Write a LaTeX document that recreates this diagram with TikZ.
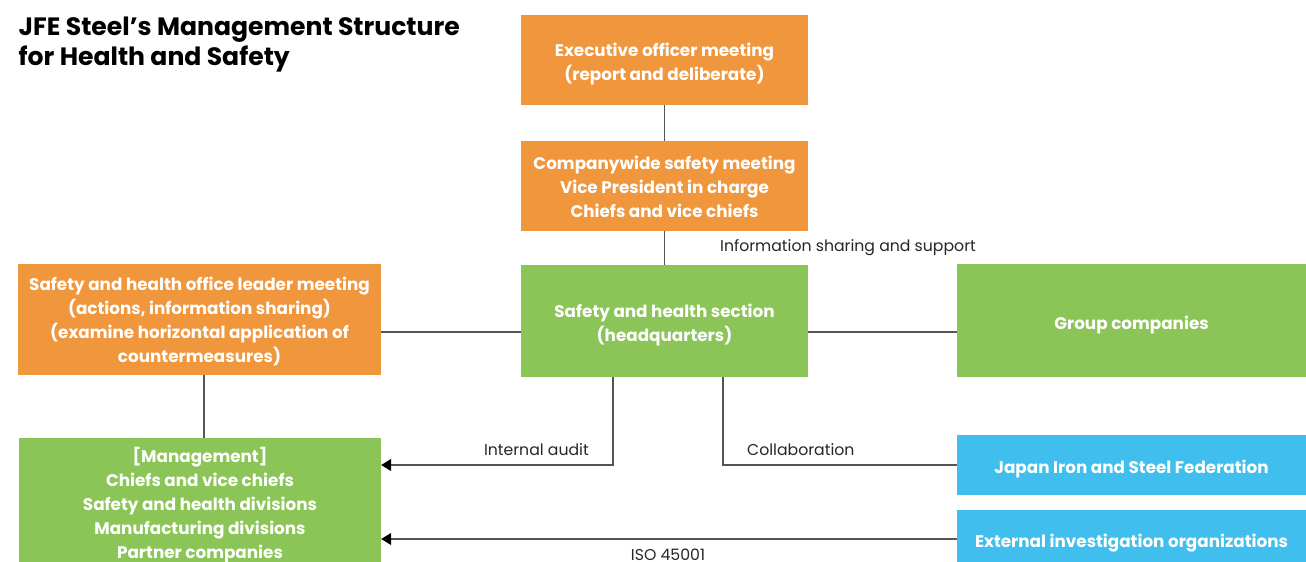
\documentclass[tikz,border=0pt]{standalone}
\usepackage{fontspec}
\setmainfont{Poppins}
\usetikzlibrary{arrows.meta,calc}
\definecolor{orng}{RGB}{240,150,60}
\definecolor{grn}{RGB}{139,197,87}
\definecolor{blu}{RGB}{64,190,238}
\definecolor{ln}{RGB}{85,85,85}
\tikzset{
  box/.style={inner sep=0pt},
  boxtxt/.style={inner sep=0pt, align=center, text=white, font=\fontsize{16.8}{24}\selectfont\bfseries},
  obox/.style={box, fill=orng},
  gbox/.style={box, fill=grn},
  bbox/.style={box, fill=blu},
  conn/.style={draw=ln, line width=1.3pt},
  arr/.style={conn, -{Triangle[length=10pt,width=12pt,fill=black,color=black]}},
  lbl/.style={inner sep=0pt, font=\fontsize{15.7}{20}\selectfont, text=black!85}
}
\begin{document}
\begin{tikzpicture}[x=1pt,y=-1pt]
\useasboundingbox (0,0) rectangle (1306,562);
\clip (0,0) rectangle (1306,562);
\node[anchor=north west, inner sep=0pt, align=left, font=\fontsize{25.1}{30}\selectfont\bfseries] (title) at (18.5,17) {JFE Steel’s Management Structure\\for Health and Safety};
\node[obox, minimum width=287pt, minimum height=90pt,
  label={[boxtxt,yshift=-4pt]center:{Executive officer meeting\\(report and deliberate)}}] (exec) at (664.5,60) {};
\node[obox, minimum width=287pt, minimum height=90pt,
  label={[boxtxt,yshift=-1pt]center:{Companywide safety meeting\\Vice President in charge\\Chiefs and vice chiefs}}] (comp) at (664.5,186) {};
\node[gbox, minimum width=287pt, minimum height=112pt,
  label={[boxtxt,yshift=-4pt]center:{Safety and health section\\(headquarters)}}] (sec) at (664.5,321) {};
\node[obox, minimum width=363pt, minimum height=111pt,
  label={[boxtxt,yshift=-2pt]center:{Safety and health office leader meeting\\(actions, information sharing)\\(examine horizontal application of\\countermeasures)}}] (lead) at (199.5,319.5) {};
\node[gbox, minimum width=349pt, minimum height=113pt,
  label={[boxtxt,yshift=-5pt]center:{Group companies}}] (grp) at (1131.5,320.5) {};
\node[gbox, minimum width=362pt, minimum height=132pt,
  label={[boxtxt,yshift=-1pt]center:{[Management]\\Chiefs and vice chiefs\\Safety and health divisions\\Manufacturing divisions\\Partner companies}}] (mgmt) at (200,504) {};
\node[bbox, minimum width=349pt, minimum height=60pt,
  label={[boxtxt,yshift=-4pt]center:{Japan Iron and Steel Federation}}] (jisf) at (1131.5,465) {};
\node[bbox, minimum width=349pt, minimum height=62pt,
  label={[boxtxt,yshift=-2pt]center:{External investigation organizations}}] (ext) at (1131.5,541) {};
\draw[conn] (exec.south) -- (comp.north);
\draw[conn] (comp.south) -- (sec.north);
\draw[conn] (lead.east |- 0,332) -- (sec.west |- 0,332);
\draw[conn] (sec.east |- 0,332) -- (grp.west |- 0,332);
\draw[conn] (lead.south -| 204,0) -- (mgmt.north -| 204,0);
\draw[arr] (sec.south -| 613,0) |- (mgmt.east |- 0,465);
\draw[conn] (jisf.west) -| (sec.south -| 723,0);
\draw[arr] (ext.west |- 0,539) -- (mgmt.east |- 0,539);
\node[lbl, anchor=west] (l1) at (720,248) {Information sharing and support};
\node[lbl, anchor=east] (l2) at (589,450) {Internal audit};
\node[lbl, anchor=west] (l3) at (747,450) {Collaboration};
\node[lbl] (l4) at (668,555) {ISO 45001};
\end{tikzpicture}
\end{document}
